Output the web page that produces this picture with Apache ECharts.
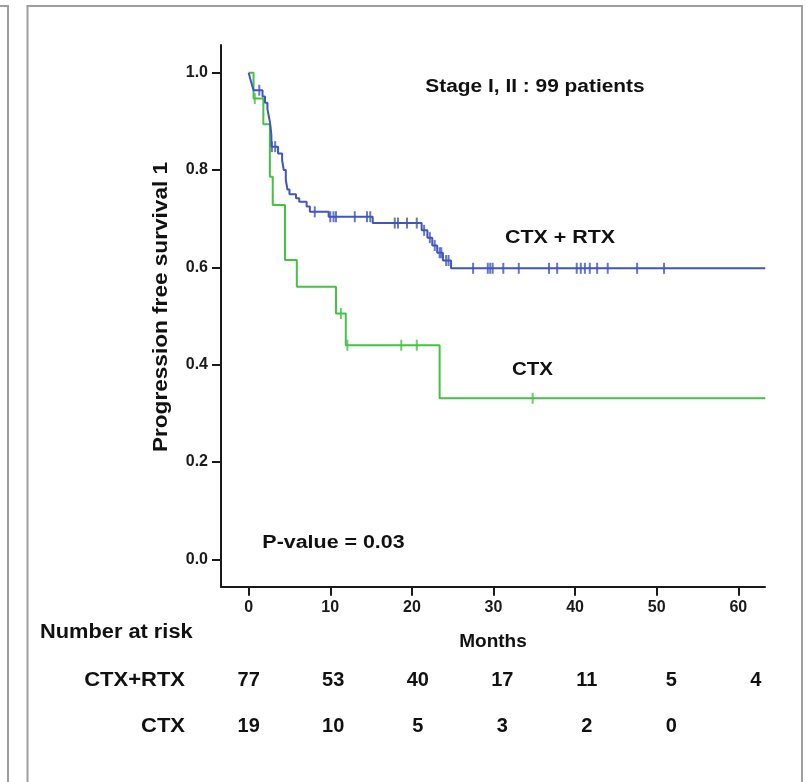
<!DOCTYPE html>
<html>
<head>
<meta charset="utf-8">
<script src="https://cdn.jsdelivr.net/npm/echarts@6/dist/echarts.min.js"></script>
<style>
html,body{margin:0;padding:0;background:#fff;}
#c{width:808px;height:782px;}
</style>
</head>
<body>
<div id="c"></div>
<script>
// ---- data ----
const xTicks = [0, 10, 20, 30, 40, 50, 60];
const yTicks = [0, 0.2, 0.4, 0.6, 0.8, 1.0];

// CTX + RTX (blue): [months, survival after event]
const ctxRtxSurv = [
  [0, 1.0], [0.2, 0.987], [0.4, 0.975], [0.6, 0.964], [1.7, 0.951], [2.0, 0.938],
  [2.3, 0.925], [2.45, 0.912], [2.6, 0.899], [2.7, 0.886], [2.78, 0.873], [2.8, 0.848],
  [3.6, 0.834], [4.1, 0.820], [4.3, 0.800], [4.55, 0.780], [4.75, 0.760], [5.0, 0.750],
  [5.8, 0.742], [6.2, 0.735], [7.1, 0.725], [7.5, 0.714], [9.8, 0.704], [15.2, 0.691],
  [21.2, 0.676], [21.9, 0.661], [22.5, 0.645], [23.1, 0.630], [23.8, 0.614], [24.8, 0.598],
  [63.3, 0.598]
];
const ctxRtxCensor = [
  [1.3, 0.964], [2.85, 0.848], [3.25, 0.848], [8.1, 0.714], [10.0, 0.704], [10.4, 0.704],
  [10.7, 0.704], [13.0, 0.704], [14.5, 0.704], [14.9, 0.704], [17.9, 0.691], [18.3, 0.691],
  [19.4, 0.691], [20.6, 0.691], [21.5, 0.676], [22.2, 0.661], [22.8, 0.645], [23.4, 0.630],
  [23.6, 0.630], [24.2, 0.614], [24.5, 0.614], [27.5, 0.598], [29.3, 0.598], [29.6, 0.598],
  [29.9, 0.598], [31.2, 0.598], [33.1, 0.598], [36.8, 0.598], [37.8, 0.598], [40.2, 0.598],
  [40.7, 0.598], [41.2, 0.598], [41.8, 0.598], [42.7, 0.598], [44.0, 0.598], [47.6, 0.598],
  [50.9, 0.598]
];

// CTX (green)
const ctxSurv = [
  [0, 1.0], [0.6, 0.947], [1.8, 0.894], [2.6, 0.786], [2.95, 0.728], [4.45, 0.615],
  [5.9, 0.560], [10.7, 0.505], [11.9, 0.440], [23.4, 0.331], [63.3, 0.331]
];
const ctxCensor = [
  [0.75, 0.947], [11.3, 0.505], [12.1, 0.440], [18.7, 0.440], [20.6, 0.440], [34.8, 0.331]
];

// Number at risk
const riskTimes = [0, 10, 20, 30, 40, 50, 60];
const riskCtxRtx = [77, 53, 40, 17, 11, 5, 4];
const riskCtx = [19, 10, 5, 3, 2, 0];
const riskGroups = ['CTX', 'CTX+RTX'];

// ---- chart ----
const FONT = "'Liberation Sans', Arial, sans-serif";
const BLUE = '#4055BE';
const GREEN = '#43C243';
const AX = '#1a1a1a';

const riskData = [];
riskTimes.forEach((t, i) => {
  if (i < riskCtxRtx.length) riskData.push([t, 'CTX+RTX', riskCtxRtx[i]]);
  if (i < riskCtx.length) riskData.push([t, 'CTX', riskCtx[i]]);
});

function txt(text, x, y, opts) {
  return Object.assign({
    type: 'text', x: x, y: y, z: 100,
    style: {
      text: text, fontSize: 18, fontWeight: 'bold', fontFamily: FONT, fill: '#111',
      align: 'center', verticalAlign: 'middle', textAlign: 'center', textVerticalAlign: 'middle'
    }
  }, opts || {});
}
function styled(el, st) { Object.assign(el.style, st); return el; }

const chart = echarts.init(document.getElementById('c'), null, {renderer: 'canvas'});
chart.setOption({
  animation: false,
  backgroundColor: '#fff',
  grid: [
    {left: 221, top: 45, right: 43, bottom: 195.3},
    {left: 248.7, right: 52.1, top: 656.65, height: 93.4}
  ],
  xAxis: [
    {
      type: 'value', gridIndex: 0, min: -3.39, max: 63.27,
      axisLine: {show: true, onZero: false, lineStyle: {color: AX, width: 2}},
      axisTick: {show: true, length: 9, lineStyle: {color: AX, width: 2}, customValues: xTicks},
      axisLabel: {customValues: xTicks, margin: 13, fontSize: 16, fontWeight: 'bold', color: AX, fontFamily: FONT},
      splitLine: {show: false},
      name: 'Months', nameLocation: 'middle', nameGap: 46,
      nameTextStyle: {fontSize: 19, fontWeight: 'bold', color: '#111', fontFamily: FONT}
    },
    {type: 'value', gridIndex: 1, min: 0, max: 60, show: false}
  ],
  yAxis: [
    {
      type: 'value', gridIndex: 0, min: -0.0563, max: 1.0569,
      axisLine: {show: true, onZero: false, lineStyle: {color: AX, width: 2}},
      axisTick: {show: true, length: 9, lineStyle: {color: AX, width: 2}, customValues: yTicks},
      axisLabel: {customValues: yTicks, margin: 13, fontSize: 16, fontWeight: 'bold', color: AX, fontFamily: FONT,
        formatter: v => Number(v).toFixed(1)},
      splitLine: {show: false}
    },
    {type: 'category', gridIndex: 1, data: riskGroups, show: false}
  ],
  series: [
    {type: 'line', name: 'CTX', data: ctxSurv, step: 'end', showSymbol: false, symbol: 'none',
      lineStyle: {color: GREEN, width: 2}, itemStyle: {color: GREEN}, z: 2},
    {type: 'line', name: 'CTX + RTX', data: ctxRtxSurv, step: 'end', showSymbol: false, symbol: 'none',
      lineStyle: {color: BLUE, width: 2}, itemStyle: {color: BLUE}, z: 3},
    {type: 'scatter', data: ctxCensor, symbol: 'rect', symbolSize: [2, 11], itemStyle: {color: GREEN}, z: 4},
    {type: 'scatter', data: ctxRtxCensor, symbol: 'rect', symbolSize: [2, 11], itemStyle: {color: BLUE}, z: 5},
    {type: 'scatter', xAxisIndex: 1, yAxisIndex: 1, data: riskData, symbol: 'circle', symbolSize: 0.5,
      itemStyle: {color: '#ffffff', opacity: 1}, silent: true,
      label: {show: true, position: 'inside', formatter: p => String(p.value[2]), opacity: 1,
        textBorderWidth: 0, fontSize: 20, fontWeight: 'bold', color: '#111', fontFamily: FONT}}
  ],
  graphic: [
    {type: 'polyline', shape: {points: [[0, 6], [8, 6], [8, 782]]}, style: {stroke: '#9e9e9e', lineWidth: 2, fill: null}},
    {type: 'polyline', shape: {points: [[27.5, 782], [27.5, 6], [802, 6], [802, 782]]}, style: {stroke: '#9e9e9e', lineWidth: 2, fill: null}},
    txt('Stage I, II : 99 patients', 535, 87, {scaleX: 1.16}),
    txt('CTX + RTX', 560, 238, {scaleX: 1.19}),
    txt('CTX', 532.5, 370, {scaleX: 1.14}),
    txt('P-value = 0.03', 333.5, 543, {scaleX: 1.19}),
    txt('Progression free survival 1', 161, 307, {rotation: Math.PI / 2, scaleX: 1.13, style: {
      text: 'Progression free survival 1', fontSize: 20, fontWeight: 'bold', fontFamily: FONT, fill: '#111',
      align: 'center', verticalAlign: 'middle', textAlign: 'center', textVerticalAlign: 'middle'}}),
    styled(txt('Number at risk', 40, 632, {scaleX: 1.09}), {fontSize: 20, align: 'left', textAlign: 'left'}),
    styled(txt('CTX+RTX', 185, 680, {scaleX: 1.1}), {fontSize: 20, align: 'right', textAlign: 'right'}),
    styled(txt('CTX', 185, 726.7, {scaleX: 1.1}), {fontSize: 20, align: 'right', textAlign: 'right'})
  ]
});
</script>
</body>
</html>
